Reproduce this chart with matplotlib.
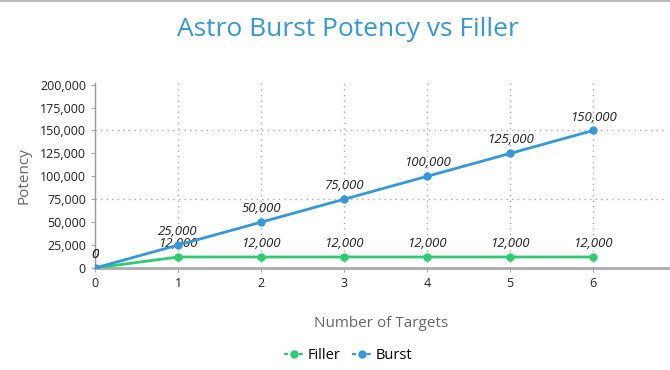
import matplotlib
matplotlib.use("Agg")
import matplotlib.pyplot as plt
from matplotlib.ticker import FuncFormatter
from matplotlib.lines import Line2D

plt.rcParams['font.family'] = ['Open Sans', 'DejaVu Sans']

targets = [0, 1, 2, 3, 4, 5, 6]
filler = [0, 12000, 12000, 12000, 12000, 12000, 12000]
burst = [0, 25000, 50000, 75000, 100000, 125000, 150000]
y_ticks = [0, 25000, 50000, 75000, 100000, 125000, 150000, 175000, 200000]

green = '#2ecc71'
blue = '#3498db'

fig = plt.figure(figsize=(6.7, 3.7), dpi=100)
ax = fig.add_axes([0.1418, 0.2757, 0.8552, 0.5005])

ax.set_xlim(0, 6.9)
ax.set_ylim(0, 202000)

for x in targets[1:]:
    ax.axvline(x, color='#aaaaaa', linestyle=(0, (1, 3)), linewidth=1, zorder=0)
for y in [75000, 150000]:
    ax.axhline(y, color='#aaaaaa', linestyle=(0, (1, 3)), linewidth=1, zorder=0)

ax.plot(targets, filler, color=green, linewidth=2, marker='o', markersize=5, zorder=3)
ax.plot(targets, burst, color=blue, linewidth=2, marker='o', markersize=5, zorder=4)

for x, y in zip(targets, filler):
    ax.annotate(f'{y:,}', (x, y), xytext=(0, 5), textcoords='offset points',
                ha='center', va='bottom', fontsize=9.5, style='italic', color='#222222')
for x, y in zip(targets, burst):
    ax.annotate(f'{y:,}', (x, y), xytext=(0, 5), textcoords='offset points',
                ha='center', va='bottom', fontsize=9.5, style='italic', color='#222222')

ax.set_xticks(targets)
ax.set_yticks(y_ticks)
ax.yaxis.set_major_formatter(FuncFormatter(lambda v, p: f'{int(v):,}'))
ax.tick_params(axis='both', labelsize=9, colors='#aaaaaa', labelcolor='#222222', length=3)

for s in ['top', 'right']:
    ax.spines[s].set_visible(False)
ax.spines['left'].set_color('#999999')
ax.spines['left'].set_linewidth(1)
ax.spines['bottom'].set_color('#aaaaaa')
ax.spines['bottom'].set_linewidth(2)

ax.set_xlabel('Number of Targets', fontsize=11, color='#666666', labelpad=19)
ax.set_ylabel('Potency', fontsize=11, color='#666666', labelpad=6)

fig.text(0.52, 0.919, 'Astro Burst Potency vs Filler', fontsize=19, color='#3498db',
         ha='center', va='center')

handles = [
    Line2D([], [], color=green, linestyle=(0, (2, 1.5)), linewidth=1.5, marker='o', markersize=5),
    Line2D([], [], color=blue, linestyle=(0, (2, 1.5)), linewidth=1.5, marker='o', markersize=5),
]
fig.legend(handles, ['Filler', 'Burst'], loc='center', bbox_to_anchor=(0.52, 0.04), ncol=2,
           frameon=False, fontsize=10.5, handlelength=1.3, columnspacing=0.8, handletextpad=0.3)
fig.add_artist(Line2D([0, 1], [0.998, 0.998], color='#bbbbbb', linewidth=1.5,
                      transform=fig.transFigure))

fig.savefig('out.png', dpi=100)
